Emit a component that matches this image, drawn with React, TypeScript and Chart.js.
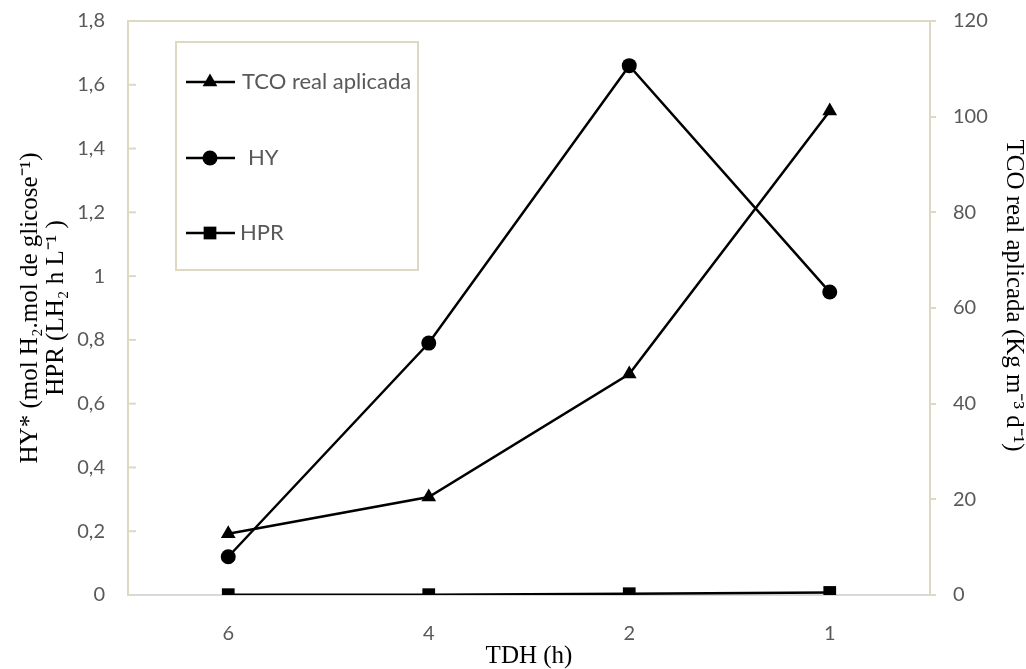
import React, { useEffect, useRef } from 'react';
import { Chart, registerables } from 'chart.js';

Chart.register(...registerables);

const categories = ['6', '4', '2', '1'];
const tcoValues = [12.8, 20.5, 46.2, 101.2];
const hyValues = [0.12, 0.79, 1.66, 0.95];
const hprValues = [0.001, 0.001, 0.004, 0.008];
const seriesLabels = ['TCO real aplicada', 'HY', 'HPR'];
const xTitle = 'TDH (h)';
const leftTitle = ['HY* (mol H\u2082.mol de glicose\u207B\u00B9)', 'HPR (LH\u2082 h L\u207B\u00B9 )'];
const rightTitle = 'TCO real aplicada (Kg m\u207B\u00B3 d\u207B\u00B9)';

const BEIGE = '#DDD9C3';
const TICK_COLOR = '#595959';
const SANS = 'Lato';
const SERIF = '"Liberation Serif", "Times New Roman", serif';

function drawMarker(ctx: CanvasRenderingContext2D, style: string, x: number, y: number, r: number) {
  ctx.beginPath();
  if (style === 'triangle') {
    let rad = 0;
    ctx.moveTo(x + Math.sin(rad) * r, y - Math.cos(rad) * r);
    rad += (2 * Math.PI) / 3;
    ctx.lineTo(x + Math.sin(rad) * r, y - Math.cos(rad) * r);
    rad += (2 * Math.PI) / 3;
    ctx.lineTo(x + Math.sin(rad) * r, y - Math.cos(rad) * r);
    ctx.closePath();
  } else if (style === 'rect') {
    const s = r * Math.SQRT1_2;
    ctx.rect(x - s, y - s, 2 * s, 2 * s);
  } else {
    ctx.arc(x, y, r, 0, Math.PI * 2);
  }
  ctx.fill();
}

const framePlugin = {
  id: 'framePlugin',
  afterDraw(chart: any) {
    const { ctx, chartArea: a } = chart;
    ctx.save();
    ctx.strokeStyle = BEIGE;
    ctx.lineWidth = 2;
    ctx.beginPath();
    ctx.moveTo(a.left, a.top);
    ctx.lineTo(a.right + 6, a.top);
    ctx.stroke();
    const yScale = chart.scales.y;
    yScale.ticks.forEach((t: any) => {
      const yy = yScale.getPixelForValue(t.value);
      if (Math.abs(yy - a.bottom) < 1 || Math.abs(yy - a.top) < 1) return;
      ctx.beginPath();
      ctx.moveTo(a.left, yy);
      ctx.lineTo(a.left + 8, yy);
      ctx.stroke();
    });

    const bx = a.left + 48;
    const by = a.top + 21;
    const bw = 242;
    const bh = 228;
    ctx.fillStyle = '#ffffff';
    ctx.fillRect(bx, by, bw, bh);
    ctx.strokeStyle = BEIGE;
    ctx.lineWidth = 2;
    ctx.strokeRect(bx, by, bw, bh);

    const entryY = [40, 116, 191];
    const textX = [66, 72, 64];
    chart.data.datasets.forEach((ds: any, i: number) => {
      const y = by + entryY[i];
      ctx.strokeStyle = '#000';
      ctx.lineWidth = 2.5;
      ctx.beginPath();
      ctx.moveTo(bx + 10, y);
      ctx.lineTo(bx + 59, y);
      ctx.stroke();
      ctx.fillStyle = '#000';
      drawMarker(ctx, ds.pointStyle, bx + 34, y, ds.pointRadius);
      ctx.fillStyle = TICK_COLOR;
      ctx.font = `22px ${SANS}`;
      ctx.textAlign = 'left';
      ctx.textBaseline = 'middle';
      ctx.fillText(ds.label, bx + textX[i], y);
    });
    ctx.restore();
  },
};

const formatLeft = (v: number | string) => Number(Number(v).toFixed(1)).toString().replace('.', ',');

const fitVertical = (width: number) => (s: any) => {
  s.width = width;
  s.paddingTop = 0;
  s.paddingBottom = 0;
};

export default function App() {
  const ref = useRef<HTMLCanvasElement | null>(null);

  useEffect(() => {
    if (!ref.current) return;
    const chart = new Chart(ref.current, {
      type: 'line',
      data: {
        labels: categories,
        datasets: [
          {
            label: seriesLabels[0],
            data: tcoValues,
            yAxisID: 'y1',
            borderColor: '#000',
            backgroundColor: '#000',
            borderWidth: 2.5,
            pointStyle: 'triangle',
            pointRadius: 8.5,
            pointBorderWidth: 0,
          },
          {
            label: seriesLabels[1],
            data: hyValues,
            yAxisID: 'y',
            borderColor: '#000',
            backgroundColor: '#000',
            borderWidth: 2.5,
            pointStyle: 'circle',
            pointRadius: 7.5,
            pointBorderWidth: 0,
          },
          {
            label: seriesLabels[2],
            data: hprValues,
            yAxisID: 'y',
            borderColor: '#000',
            backgroundColor: '#000',
            borderWidth: 2.5,
            pointStyle: 'rect',
            pointRadius: 9,
            pointBorderWidth: 0,
          },
        ],
      },
      options: {
        responsive: false,
        animation: false,
        devicePixelRatio: 1,
        layout: { padding: { top: 21, left: 0, right: 0, bottom: 0 } },
        plugins: {
          legend: { display: false },
          tooltip: { enabled: false },
        },
        scales: {
          x: {
            type: 'category',
            offset: true,
            grid: { display: false },
            border: { display: true, color: '#D9D9D9', width: 2 },
            ticks: { color: TICK_COLOR, font: { family: SANS, size: 20 }, padding: 19 },
            title: {
              display: true,
              text: xTitle,
              color: '#000',
              font: { family: SERIF, size: 25, lineHeight: 1.0 },
              padding: { top: 0, bottom: 0 },
            },
            afterFit: (s: any) => {
              s.height = 74;
            },
          },
          y: {
            position: 'left',
            min: 0,
            max: 1.8,
            ticks: {
              stepSize: 0.2,
              color: TICK_COLOR,
              font: { family: SANS, size: 20 },
              padding: 15,
              callback: (v: any) => formatLeft(v),
            },
            grid: { display: false },
            border: { display: true, color: BEIGE, width: 2 },
            title: {
              display: true,
              text: leftTitle,
              color: '#000',
              font: { family: SERIF, size: 25, lineHeight: 1.04 },
              padding: { top: 17, bottom: 0 },
            },
            afterFit: fitVertical(128),
          },
          y1: {
            position: 'right',
            min: 0,
            max: 120,
            ticks: {
              stepSize: 20,
              color: TICK_COLOR,
              font: { family: SANS, size: 20 },
              padding: 17,
            },
            grid: { display: true, drawOnChartArea: false, drawTicks: true, tickLength: 6, color: BEIGE, lineWidth: 2 },
            border: { display: true, color: BEIGE, width: 2 },
            title: {
              display: true,
              text: rightTitle + '\u00A0'.repeat(4),
              color: '#000',
              font: { family: SERIF, size: 25, lineHeight: 1.0 },
              padding: { top: 0, bottom: 0 },
            },
            afterFit: fitVertical(96),
          },
        },
      },
      plugins: [framePlugin],
    });
    return () => chart.destroy();
  }, []);

  return (
    <div style={{ position: 'absolute', left: 0, top: 0, width: 1026, height: 669, background: '#fff' }}>
      <canvas ref={ref} width={1026} height={669} />
    </div>
  );
}
